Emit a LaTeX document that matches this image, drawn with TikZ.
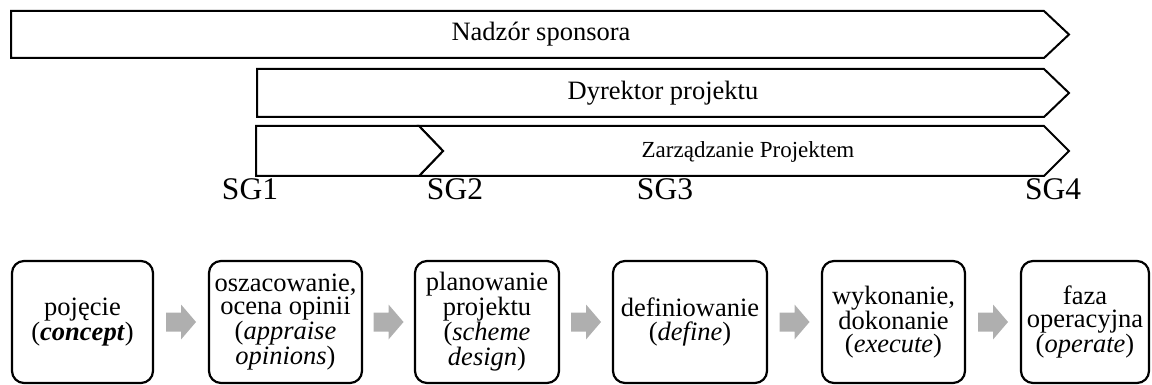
\documentclass[tikz,border=0pt]{standalone}
\usepackage{fontspec}
\setmainfont{Liberation Serif}
\usetikzlibrary{calc}
\definecolor{arrowgray}{RGB}{175,175,175}
\tikzset{
  band/.style={draw=black, line width=2pt, line join=miter, fill=white},
  bandtext/.style={font=\fontsize{26.5}{28}\selectfont, inner sep=0pt},
  gatetext/.style={font=\fontsize{31.5}{34}\selectfont, inner sep=0pt},
  phase/.style={draw=black, line width=2.2pt, rounded corners=12pt, minimum height=122pt,
    align=center, inner sep=1pt, font=\fontsize{26.5}{23.4}\selectfont},
  pics/flowarrow/.style={code={
    \fill[arrowgray] (-15,-9.5) -- (0,-9.5) -- (0,-17.5) -- (15,0) -- (0,17.5) -- (0,9.5) -- (-15,9.5) -- cycle;
  }}
}
\begin{document}
\begin{tikzpicture}[x=1pt, y=-1pt]
\useasboundingbox (0,0) rectangle (1152,385);

% sponsor oversight band
\draw[band] (11,11) -- (1044,11) -- (1069,34.5) -- (1044,58) -- (11,58) -- cycle;
\node[bandtext] (sponsor) at (541,34.5) {Nadzór sponsora};

% project director band
\draw[band] (257,69) -- (1044,69) -- (1069,93) -- (1044,117) -- (257,117) -- cycle;
\node[bandtext] (director) at (663,93) {Dyrektor projektu};

% project management band, split at SG2
\draw[band] (419,126) -- (1044,126) -- (1069,151) -- (1044,176) -- (419,176) -- (443,151) -- cycle;
\draw[band] (256,126) -- (419,126) -- (443,151) -- (419,176) -- (256,176) -- cycle;
\node[font=\fontsize{23}{26}\selectfont, inner sep=0pt] (pm) at (748,152) {Zarządzanie Projektem};

% stage gates
\node[gatetext] (sg1) at (250,189) {SG1};
\node[gatetext] (sg2) at (455,189) {SG2};
\node[gatetext] (sg3) at (665,189) {SG3};
\node[gatetext] (sg4) at (1053,189) {SG4};

% life-cycle phases
\node[phase, minimum width=141pt] (p1) at (82.5,322) {pojęcie\\(\textbf{\textit{concept}})};
\node[phase, minimum width=153pt] (p2) at (285.5,322) {oszacowanie,\\ocena opinii\\(\textit{appraise}\\\textit{opinions})};
\node[phase, minimum width=144pt] (p3) at (487,322) {planowanie\\projektu\\(\textit{scheme}\\\textit{design})};
\node[phase, minimum width=154pt] (p4) at (690,322) {definiowanie\\(\textit{define})};
\node[phase, minimum width=143pt] (p5) at (893.5,322) {wykonanie,\\dokonanie\\(\textit{execute})};
\node[phase, minimum width=128pt] (p6) at (1085,322) {faza\\operacyjna\\(\textit{operate})};

% arrows between phases
\foreach \a/\b in {p1/p2, p2/p3, p3/p4, p4/p5, p5/p6}
  \pic at ($(\a.east)!0.5!(\b.west)$) {flowarrow};
\end{tikzpicture}
\end{document}
